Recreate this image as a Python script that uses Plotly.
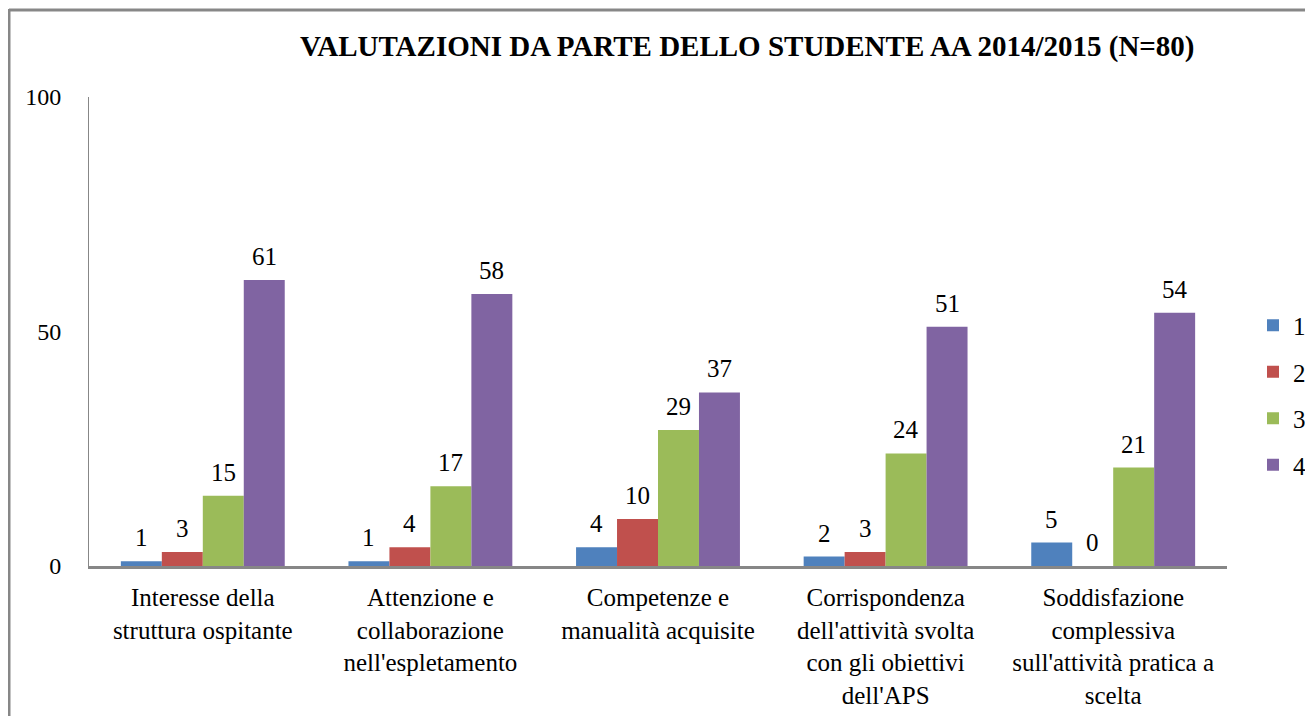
import plotly.graph_objects as go

categories = [
    "Interesse della<br>struttura ospitante",
    "Attenzione e<br>collaborazione<br>nell'espletamento",
    "Competenze e<br>manualità acquisite",
    "Corrispondenza<br>dell'attività svolta<br>con gli obiettivi<br>dell'APS",
    "Soddisfazione<br>complessiva<br>sull'attività pratica a<br>scelta",
]
series_names = ["1", "2", "3", "4"]
values_1 = [1, 1, 4, 2, 5]
values_2 = [3, 4, 10, 3, 0]
values_3 = [15, 17, 29, 24, 21]
values_4 = [61, 58, 37, 51, 54]
colors = ["#4F81BD", "#C0504D", "#9BBB59", "#8064A2"]
title_text = "VALUTAZIONI DA PARTE DELLO STUDENTE AA 2014/2015 (N=80)"
y_ticks = [0, 50, 100]

all_values = [values_1, values_2, values_3, values_4]
FONT = "Liberation Serif"

OFF = 8
W, H = 1313, 716
L, R, T, B = 89 - OFF, 1227 - OFF, 97 - OFF, 566 - OFF
bargap = 0.28

fig = go.Figure()
for name, vals, col in zip(series_names, all_values, colors):
    fig.add_trace(go.Bar(
        x=list(range(len(categories))), y=vals, name=name, legendgroup="g" + name,
        marker=dict(color=col, line=dict(width=0)),
    ))

n = len(series_names)
w = (1 - bargap) / n
annotations = []
for j, vals in enumerate(all_values):
    for i, v in enumerate(vals):
        annotations.append(dict(
            x=i + (j - (n - 1) / 2) * w, y=v, xref="x", yref="y",
            text=str(v), showarrow=False, yanchor="bottom", yshift=8,
            font=dict(family=FONT, size=25, color="black"),
        ))

def px(xp):
    return (xp - OFF - L) / (R - L)

def py(yp):
    return (B - (yp - OFF)) / (B - T)

annotations.append(dict(
    x=px(747), y=py(46), xref="paper", yref="paper", text="<b>" + title_text + "</b>",
    showarrow=False, xanchor="center", yanchor="middle",
    font=dict(family=FONT, size=29, color="black"),
))

shapes = [
    dict(type="line", xref="paper", yref="paper", x0=px(9), x1=px(1330), y0=py(10), y1=py(10),
         line=dict(color="#878787", width=3)),
    dict(type="line", xref="paper", yref="paper", x0=px(9), x1=px(9), y0=py(9), y1=py(740),
         line=dict(color="#878787", width=3)),
]

fig.update_layout(
    width=W, height=H,
    margin=dict(l=L, r=W - R, t=T, b=H - B, pad=0, autoexpand=False),
    paper_bgcolor="white", plot_bgcolor="white",
    barmode="group", bargap=bargap, bargroupgap=0,
    font=dict(family=FONT, size=24, color="black"),
    showlegend=True,
    legend=dict(x=px(1253), y=py(395), xanchor="left", yanchor="middle",
                font=dict(family=FONT, size=25, color="black"),
                tracegroupgap=11, itemwidth=30, bgcolor="rgba(0,0,0,0)"),
    annotations=annotations,
    shapes=shapes,
)
fig.update_xaxes(
    tickmode="array", tickvals=list(range(len(categories))), ticktext=categories,
    range=[-0.5, len(categories) - 0.5],
    showline=True, linecolor="#878787", linewidth=3, ticks="",
    showgrid=False, zeroline=False, automargin=False,
    ticklabelstandoff=7,
    tickfont=dict(family=FONT, size=25, color="black"),
)
fig.update_yaxes(
    range=[0, 100], tickvals=y_ticks, showgrid=False, zeroline=False,
    showline=True, linecolor="#878787", linewidth=1, ticks="", automargin=False,
    ticklabelstandoff=22,
    tickfont=dict(family=FONT, size=24, color="black"),
)

fig.write_html("out.html")
